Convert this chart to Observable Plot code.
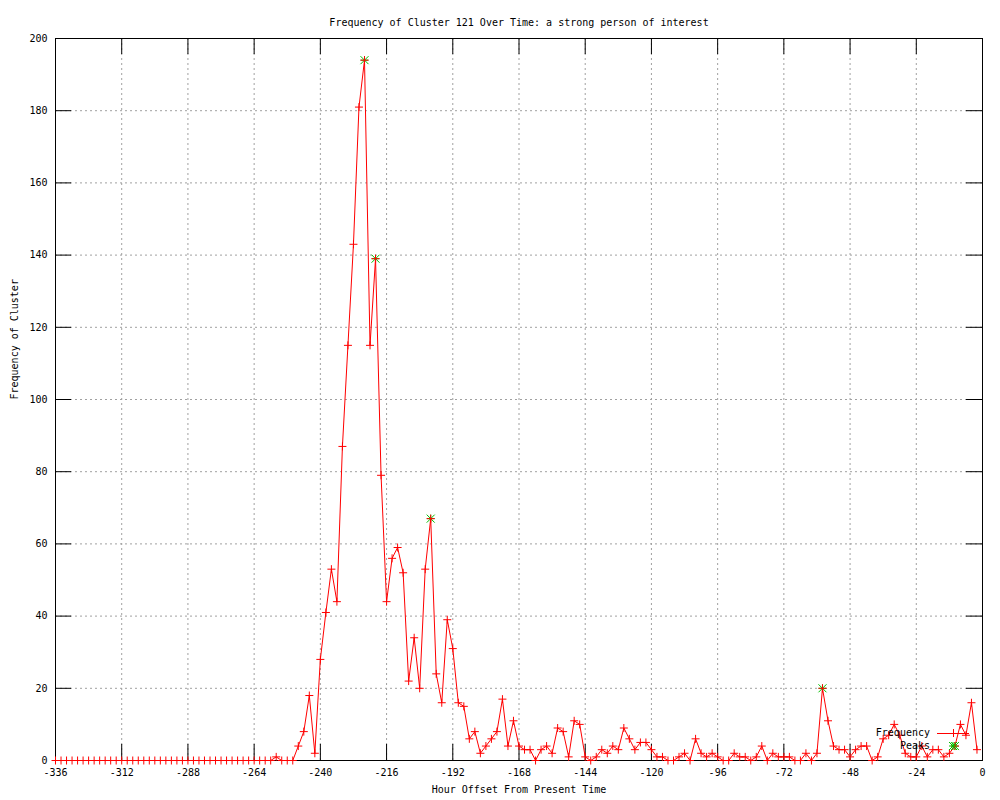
<!DOCTYPE html>
<html><head><meta charset="utf-8">
<script src="https://cdn.jsdelivr.net/npm/d3@7"></script>
<script src="https://cdn.jsdelivr.net/npm/@observablehq/plot@0.6"></script>
<style>body{margin:0;background:#fff}</style>
</head><body><div id="chart"></div>
<script>
const title = "Frequency of Cluster 121 Over Time: a strong person of interest";
const xLabel = "Hour Offset From Present Time";
const yLabel = "Frequency of Cluster";
const seriesNames = ["Frequency", "Peaks"];
const startHour = -336, stepHours = 2;
const counts = [
  0,0,0,0,0,0,0,0,0,0, 0,0,0,0,0,0,0,0,0,0,
  0,0,0,0,0,0,0,0,0,0, 0,0,0,0,0,0,0,0,0,0,
  1,0,0,0,4,8,18,2,28,41, 53,44,87,115,143,181,194,115,139,79,
  44,56,59,52,22,34,20,53,67,24, 16,39,31,16,15,6,8,2,4,6,
  8,17,4,11,4,3,3,0,3,4, 2,9,8,1,11,10,1,0,1,3,
  2,4,3,9,6,3,5,5,3,1, 1,0,0,1,2,0,6,2,1,2,
  1,0,0,2,1,1,0,1,4,0, 2,1,1,1,0,0,2,0,2,20,
  11,4,3,3,1,3,4,4,0,1, 6,7,10,7,2,1,1,4,1,3,
  3,1,2,4,10,7,16,3
];
const peakHours = [-224, -220, -200, -58, -10];
const xTicks = [-336,-312,-288,-264,-240,-216,-192,-168,-144,-120,-96,-72,-48,-24,0];
const yTicks = [0,20,40,60,80,100,120,140,160,180,200];

const data = counts.map((v, i) => ({hour: startHour + i * stepHours, count: v}));
const peaks = data.filter(d => peakHours.includes(d.hour));

const W = 1000, H = 800, mL = 55, mR = 18, mT = 38, mB = 40;
const fw = W - mL - mR, fh = H - mT - mB, tk = 16;
const red = "#ff0000", green = "#00c000", gridColor = "#a0a0a0";

const plusSym = {draw(ctx, size) { const r = Math.sqrt(size / Math.PI);
  ctx.moveTo(-r, 0); ctx.lineTo(r, 0); ctx.moveTo(0, -r); ctx.lineTo(0, r); }};
const starSym = {draw(ctx, size) { const r = Math.sqrt(size / Math.PI);
  ctx.moveTo(-r, -r); ctx.lineTo(r, r); ctx.moveTo(-r, r); ctx.lineTo(r, -r);
  ctx.moveTo(-r, 0); ctx.lineTo(r, 0); ctx.moveTo(0, -r); ctx.lineTo(0, r); }};

const svg = Plot.plot({
  width: W, height: H,
  marginLeft: mL, marginRight: mR, marginTop: mT, marginBottom: mB,
  style: {fontFamily: "'DejaVu Sans Mono', monospace", fontSize: "10px", background: "white", color: "black"},
  x: {domain: [-336, 0]},
  y: {domain: [0, 200]},
  marks: [
    Plot.ruleX(xTicks, {stroke: gridColor, strokeDasharray: "2,3"}),
    Plot.ruleY(yTicks, {stroke: gridColor, strokeDasharray: "2,3"}),
    Plot.ruleX(xTicks, {stroke: "black", insetTop: fh - tk}),
    Plot.ruleX(xTicks, {stroke: "black", insetBottom: fh - tk}),
    Plot.ruleY(yTicks, {stroke: "black", insetRight: fw - tk}),
    Plot.ruleY(yTicks, {stroke: "black", insetLeft: fw - tk}),
    Plot.frame({stroke: "black"}),
    Plot.axisX({ticks: xTicks, tickSize: 0, tickPadding: 8, tickFormat: d => String(d), label: null}),
    Plot.axisY({ticks: yTicks, tickSize: 0, tickPadding: 8, tickFormat: d => String(d), label: null}),
    Plot.dot(peaks, {x: "hour", y: "count", symbol: starSym, r: 4, stroke: green, fill: "none", strokeWidth: 1}),
    Plot.line(data, {x: "hour", y: "count", stroke: red, strokeWidth: 1}),
    Plot.dot(data, {x: "hour", y: "count", symbol: plusSym, r: 4, stroke: red, fill: "none", strokeWidth: 1}),
    Plot.text([title], {text: d => d, frameAnchor: "top", dy: -20}),
    Plot.text([xLabel], {text: d => d, frameAnchor: "bottom", dy: 32}),
    Plot.text([yLabel], {text: d => d, frameAnchor: "left", dx: -41, rotate: -90})
  ]
});

// legend (bottom-right, inside the frame)
const xr = W - mR, yb = H - mB;
const g = d3.select(svg).append("g").attr("font-family", "'DejaVu Sans Mono', monospace").attr("font-size", 10);
const rows = [{name: seriesNames[0], y: yb - 27}, {name: seriesNames[1], y: yb - 14}];
rows.forEach(r => g.append("text").attr("x", xr - 52).attr("y", r.y).attr("dy", "0.32em")
  .attr("text-anchor", "end").attr("fill", "black").text(r.name));
const cx = xr - 29;
g.append("path").attr("d", `M${xr - 45},${rows[0].y + 0.5}H${xr - 13}M${cx - 4},${rows[0].y + 0.5}H${cx + 4}M${cx + 0.5},${rows[0].y - 4}V${rows[0].y + 4}`)
  .attr("stroke", red).attr("stroke-width", 1).attr("fill", "none").attr("shape-rendering", "crispEdges");
g.append("path").attr("d", `M${cx - 4},${rows[1].y - 4}L${cx + 4},${rows[1].y + 4}M${cx - 4},${rows[1].y + 4}L${cx + 4},${rows[1].y - 4}M${cx - 4},${rows[1].y}H${cx + 4}M${cx},${rows[1].y - 4}V${rows[1].y + 4}`)
  .attr("stroke", green).attr("stroke-width", 1).attr("fill", "none");

document.getElementById("chart").appendChild(svg);
</script>
</body></html>
